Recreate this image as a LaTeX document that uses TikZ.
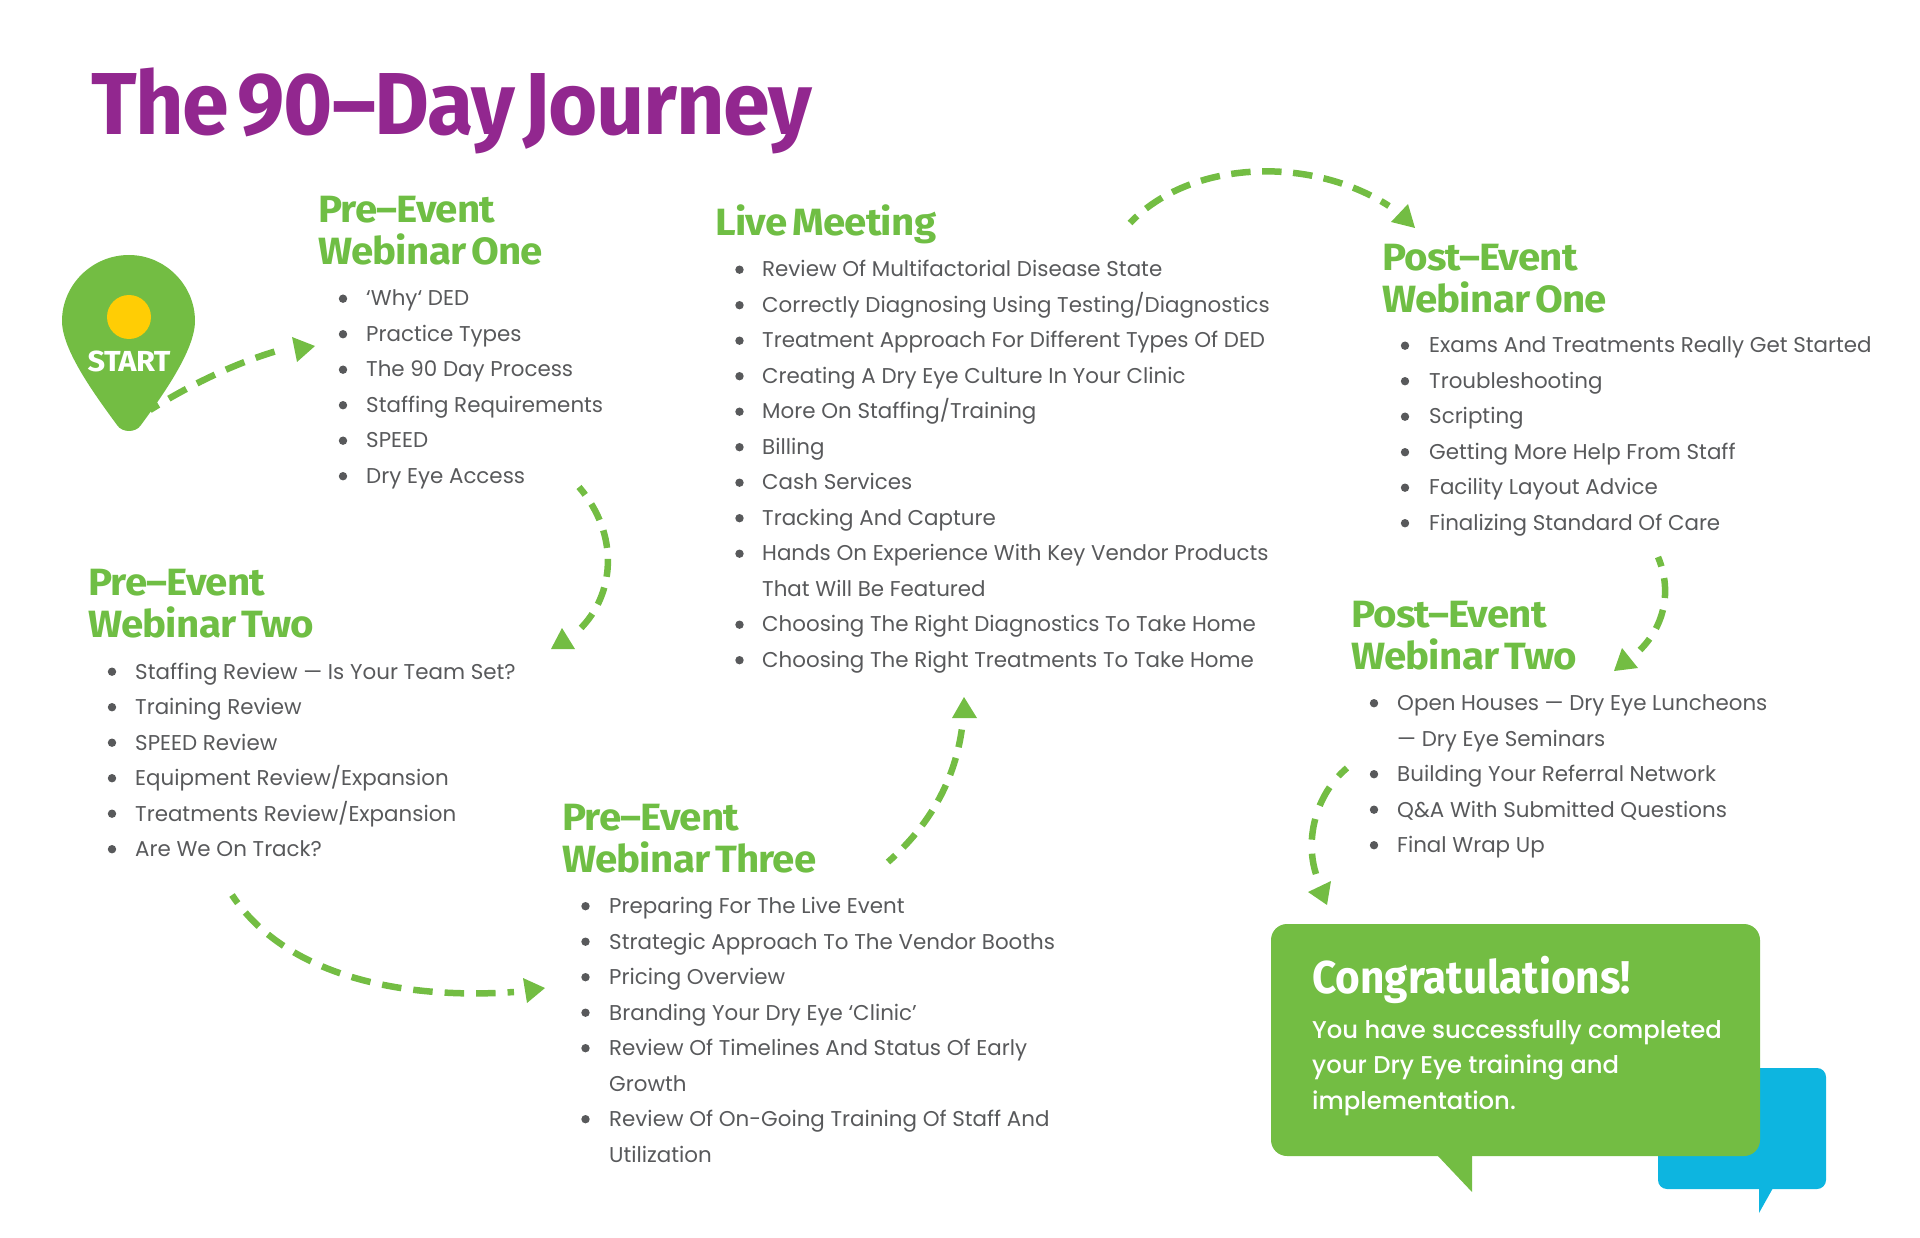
\documentclass[tikz,border=0pt]{standalone}
\usepackage{fontspec}
\usetikzlibrary{arrows.meta}
\setmainfont{Poppins}
\newfontfamily\titlefont[FakeStretch=0.96,LetterSpace=-1.5,WordSpace=0.45]{Fira Sans}
\newfontfamily\hdfont[FakeStretch=1.06,LetterSpace=-2,WordSpace=0.55]{Fira Sans}
\newfontfamily\congfont[FakeStretch=0.92]{Fira Sans}
\newfontfamily\bodyfont{Poppins}
\newfontfamily\medfont{Poppins Medium}
\definecolor{jgreen}{HTML}{73BD43}
\definecolor{jhead}{HTML}{6FBE44}
\definecolor{jpurple}{HTML}{92278F}
\definecolor{jblue}{HTML}{0DB5E0}
\definecolor{jyellow}{HTML}{FFCD05}
\definecolor{jtext}{HTML}{58595B}
\newcommand\stack[1]{\parbox[t]{620pt}{\raggedright #1}}
\newcommand\li[1]{\noindent #1\par}
\newcommand\bulletcol[3]{\foreach \k in {#3} \fill[bulletdot] (#1,{#2+\k*35.5-7.3}) circle (4.2pt);}
\tikzset{
  x=1pt,y=-1pt,
  titletext/.style={anchor=base west,inner sep=0pt,text=jpurple,font=\titlefont\bfseries\fontsize{88}{88}\selectfont},
  heading/.style={anchor=base west,inner sep=0pt,text=jhead,font=\hdfont\bfseries\fontsize{38}{42}\selectfont},
  listbox/.style={anchor=base west,inner sep=0pt,text=jtext,font=\bodyfont\fontsize{21.4}{35.5}\selectfont},
  dashline/.style={draw=jgreen,line width=6.5pt,dash pattern=on 20pt off 12pt,dash phase=10pt},
  dashtune/.style n args={3}{dash pattern=on #1pt off #2pt,dash phase=#3pt},
  headtri/.style={fill=jgreen},
  bulletdot/.style={fill=jtext},
  whitehead/.style={anchor=base west,inner sep=0pt,text=white,font=\congfont\bfseries\fontsize{46}{46}\selectfont},
  whitebody/.style={anchor=base west,inner sep=0pt,text=white,font=\medfont\fontsize{24.3}{35.5}\selectfont},
}
\begin{document}
\begin{tikzpicture}
\useasboundingbox (0,0) rectangle (1920,1238);

\node[titletext] (title) at (91,135) {The 90–Day Journey};

% start pin
\fill[jgreen] (129,255) .. controls (92,255) and (62,285) .. (62,321)
  .. controls (62,350) and (95,395) .. (117,425)
  .. controls (122,433) and (136,433) .. (141,425)
  .. controls (163,395) and (195,350) .. (195,321)
  .. controls (195,285) and (165,255) .. (129,255) -- cycle;
\fill[jyellow] (129,317) circle (22pt);
\node[anchor=base,inner sep=0pt,text=white,font=\hdfont\bfseries\fontsize{29}{29}\selectfont] (start) at (129,372) {START};

% Pre-Event One
\node[heading] (h1) at (318,223) {\stack{Pre–Event\\Webinar One}};
\node[listbox] (l1) at (366,306) {\stack{
\li{‘Why‘ DED}
\li{Practice Types}
\li{The 90 Day Process}
\li{Staffing Requirements}
\li{SPEED}
\li{Dry Eye Access}}};
\bulletcol{343}{306}{0,1,2,3,4,5}

% Pre-Event Two
\node[heading] (h2) at (88,595) {\stack{Pre–Event\\Webinar Two}};
\node[listbox] (l2) at (135,679) {\stack{
\li{Staffing Review — Is Your Team Set?}
\li{Training Review}
\li{SPEED Review}
\li{Equipment Review/Expansion}
\li{Treatments Review/Expansion}
\li{Are We On Track?}}};
\bulletcol{112}{679}{0,1,2,3,4,5}

% Pre-Event Three
\node[heading] (h3) at (562,830) {\stack{Pre–Event\\Webinar Three}};
\node[listbox] (l3) at (609,913.5) {\stack{
\li{Preparing For The Live Event}
\li{Strategic Approach To The Vendor Booths}
\li{Pricing Overview}
\li{Branding Your Dry Eye ‘Clinic’}
\li{Review Of Timelines And Status Of Early}
\li{Growth}
\li{Review Of On-Going Training Of Staff And}
\li{Utilization}}};
\bulletcol{585.5}{913.5}{0,1,2,3,4,6}

% Live Meeting
\node[heading] (h4) at (715,236) {\stack{Live Meeting}};
\node[listbox] (l4) at (762,277) {\stack{
\li{Review Of Multifactorial Disease State}
\li{Correctly Diagnosing Using Testing/Diagnostics}
\li{Treatment Approach For Different Types Of DED}
\li{Creating A Dry Eye Culture In Your Clinic}
\li{More On Staffing/Training}
\li{Billing}
\li{Cash Services}
\li{Tracking And Capture}
\li{Hands On Experience With Key Vendor Products}
\li{That Will Be Featured}
\li{Choosing The Right Diagnostics To Take Home}
\li{Choosing The Right Treatments To Take Home}}};
\bulletcol{739.5}{277}{0,1,2,3,4,5,6,7,8,10,11}

% Post-Event One
\node[heading] (h5) at (1382,270.5) {\stack{Post–Event\\Webinar One}};
\node[listbox] (l5) at (1429,353) {\stack{
\li{Exams And Treatments Really Get Started}
\li{Troubleshooting}
\li{Scripting}
\li{Getting More Help From Staff}
\li{Facility Layout Advice}
\li{Finalizing Standard Of Care}}};
\bulletcol{1405}{353}{0,1,2,3,4,5}

% Post-Event Two
\node[heading] (h6) at (1351,627) {\stack{Post–Event\\Webinar Two}};
\node[listbox] (l6) at (1397,710.5) {\stack{
\li{Open Houses — Dry Eye Luncheons}
\li{— Dry Eye Seminars}
\li{Building Your Referral Network}
\li{Q\&A With Submitted Questions}
\li{Final Wrap Up}}};
\bulletcol{1374}{710.5}{0,2,3,4}

% bubbles
\fill[jblue,rounded corners=9pt] (1658,1068) rectangle (1826,1189);
\fill[jblue] (1773,1188) -- (1759,1213) -- (1759,1188) -- cycle;
\fill[jgreen,rounded corners=16pt] (1271,924) rectangle (1760,1156);
\fill[jgreen] (1472,1155) -- (1472,1192) -- (1437,1155) -- cycle;
\node[whitehead] (congrats) at (1312,993) {Congratulations!};
\node[whitebody] (congratsbody) at (1312,1038) {\stack{You have successfully completed\\your Dry Eye training and\\implementation.}};

% connectors
\coordinate (a1s) at (150,410); \coordinate (a1e) at (280,350);
\coordinate (a2s) at (579,487); \coordinate (a2e) at (579,630);
\coordinate (a3s) at (232,895); \coordinate (a3e) at (514,992);
\coordinate (a4s) at (888,862); \coordinate (a4e) at (962,728);
\coordinate (a5s) at (1130,223); \coordinate (a5e) at (1389,206);
\coordinate (a6s) at (1658,557); \coordinate (a6e) at (1640,650);
\coordinate (a7s) at (1347,768); \coordinate (a7e) at (1316,874);

\draw[dashline] (a1s) .. controls (190,385) and (235,363) .. (a1e);
\draw[dashline,dashtune={18}{11}{8}] (a2s) .. controls (620,535) and (615,595) .. (a2e);
\draw[dashline,dashtune={19.5}{12}{9.5}] (a3s) .. controls (285,975) and (400,1000) .. (a3e);
\draw[dashline,dashtune={18}{11}{8}] (a4s) .. controls (930,825) and (955,780) .. (a4e);
\draw[dashline,dashtune={19.5}{11.5}{9.5}] (a5s) .. controls (1190,160) and (1310,155) .. (a5e);
\draw[dashline] (a6s) .. controls (1672,590) and (1665,625) .. (a6e);
\draw[dashline,dashtune={21}{14}{9}] (a7s) .. controls (1315,795) and (1305,840) .. (a7e);

\fill[headtri] (292,337) -- (315,346) -- (297,362) -- cycle;
\fill[headtri] (562,628) -- (551,649) -- (575,649) -- cycle;
\fill[headtri] (523,978) -- (545,988) -- (527,1003) -- cycle;
\fill[headtri] (964,697) -- (952,718) -- (977,718) -- cycle;
\fill[headtri] (1408,204) -- (1391,222) -- (1415,228) -- cycle;
\fill[headtri] (1622,648) -- (1614,671) -- (1638,668) -- cycle;
\fill[headtri] (1331,881) -- (1308,892) -- (1327,905) -- cycle;
\end{tikzpicture}
\end{document}
